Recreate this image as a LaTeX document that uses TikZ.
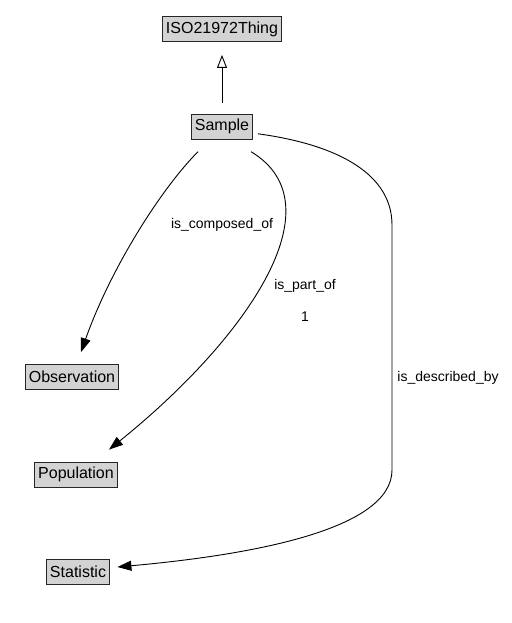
\documentclass[tikz,border=0pt]{standalone}
\usepackage{fontspec}
\setmainfont{Liberation Sans}
\usepackage{tikz}
\usepackage{xcolor}
\usetikzlibrary{arrows.meta, positioning}
\definecolor{boxgray}{HTML}{D3D3D3}
\tikzstyle{block} = [rectangle, draw=black!85, fill=boxgray, line width=0.8pt,
    inner xsep=3.5pt, inner ysep=0pt, minimum height=25pt,
    font=\fontsize{16}{18}\selectfont]
\tikzstyle{line} = [draw, line width=0.9pt, -{Triangle[length=14pt,width=10pt]}]
\tikzstyle{isa} = [draw, line width=0.9pt, -{Triangle[open,length=13pt,width=10pt]}]
\tikzstyle{edgetext} = [inner sep=0pt, font=\fontsize{14}{16}\selectfont]

\begin{document}
\begin{tikzpicture}[x=1pt, y=-1pt]
	\useasboundingbox (0,0) rectangle (511,623);
	\node [block, minimum width=119pt] (ISO_thing) at (222,29) {ISO21972Thing};
	\node [block, below=72pt of ISO_thing] (Sample) {Sample};
	\node [block] (Observation) at (72,377) {Observation};
	\node [block] (Population) at (76,474.5) {Population};
	\node [block] (Statistic) at (78,571.5) {Statistic};
	\path [isa, shorten <=11pt, shorten >=13pt] (Sample) -- (ISO_thing);
	\path [line] ([xshift=-24pt,yshift=-12pt]Sample.south) .. controls
		(160,190) and (110,270) .. ([xshift=9pt,yshift=12pt]Observation.north);
	\path [line] ([xshift=29pt,yshift=-12pt]Sample.south) .. controls
		(340,205) and (245,340) .. ([xshift=33pt,yshift=12pt]Population.north);
	\path [line] ([xshift=5pt,yshift=-7pt]Sample.east) .. controls
		(340,145) and (392,175) .. (392,225) -- (392,470) .. controls
		(392,530) and (250,555) .. ([xshift=7.5pt,yshift=4.5pt]Statistic.east);
	\node [edgetext] (composed_text) at (222,225) {is\_composed\_of};
	\node [edgetext] (part_text) at (305,286) {is\_part\_of};
	\node [edgetext] (part_card) at (305,317) {1};
	\node [edgetext] (described_text) at (448,378) {is\_described\_by};
\end{tikzpicture}
\end{document}
